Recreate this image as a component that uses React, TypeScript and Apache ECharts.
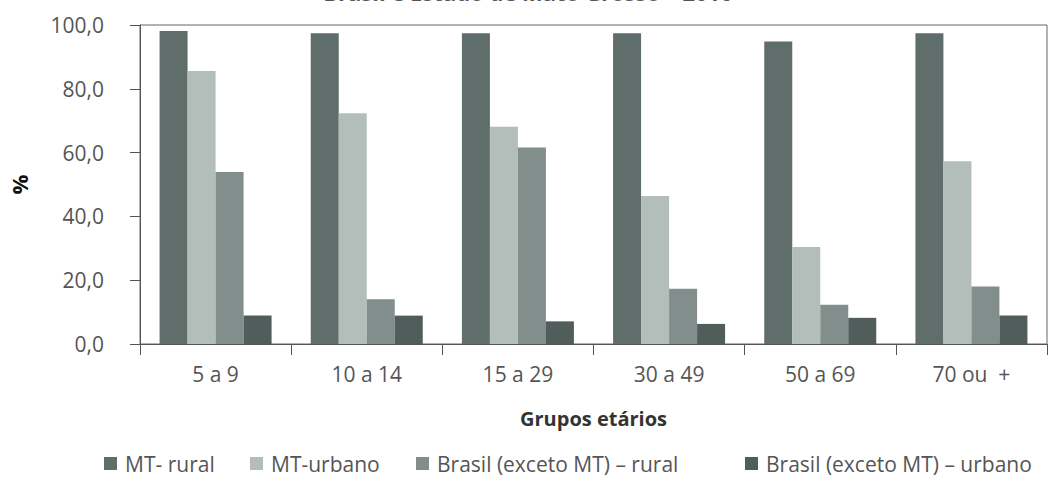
import React, { useEffect, useRef } from "react";
import * as echarts from "echarts";

const categories = ["5 a 9", "10 a 14", "15 a 29", "30 a 49", "50 a 69", "70 ou  +"];
const seriesNames = [
  "MT- rural",
  "MT-urbano",
  "Brasil (exceto MT) – rural",
  "Brasil (exceto MT) – urbano",
];
const mtRural = [98.1, 97.4, 97.4, 97.4, 94.8, 97.4];
const mtUrbano = [85.6, 72.3, 68.1, 46.4, 30.4, 57.3];
const brRural = [53.9, 14.0, 61.6, 17.3, 12.3, 18.0];
const brUrbano = [8.9, 8.9, 7.1, 6.3, 8.2, 8.9];
const colors = ["#5f6e6b", "#b3bdba", "#818e8c", "#505d5b"];
const legendLefts = [99, 245, 411, 740];

const FONT = "'Open Sans', sans-serif";

export default function App() {
  const ref = useRef<HTMLDivElement>(null);
  useEffect(() => {
    if (!ref.current) return;
    const chart = echarts.init(ref.current, null, { renderer: "svg" });
    const values = [mtRural, mtUrbano, brRural, brUrbano];
    chart.setOption({
      animation: false,
      backgroundColor: "#ffffff",
      textStyle: { fontFamily: FONT },
      grid: {
        left: 137,
        right: 9,
        top: 25,
        bottom: 137,
        show: true,
        borderColor: "#666",
        borderWidth: 1,
        backgroundColor: "transparent",
      },
      graphic: [
        {
          type: "text",
          x: 528,
          y: -19.5,
          style: {
            text: "Brasil e Estado de Mato Grosso – 2010",
            align: "center",
            verticalAlign: "top",
            fontFamily: FONT,
            fontSize: 22,
            fontWeight: "bold",
            fill: "#555",
          },
        },
      ],
      legend: seriesNames.map((n, i) => ({
        data: [n],
        left: legendLefts[i],
        top: 451,
        icon: "rect",
        itemWidth: 13,
        itemHeight: 13,
        itemGap: 0,
        padding: [2, 5, 2, 5],
        textStyle: { fontFamily: FONT, fontSize: 21, color: "#555", padding: [0, 0, 0, 3] },
        selectedMode: false,
      })),
      xAxis: {
        type: "category",
        data: categories,
        name: "Grupos etários",
        nameLocation: "middle",
        nameGap: 64,
        nameTextStyle: { fontFamily: FONT, fontSize: 20, fontWeight: "bold", color: "#333" },
        axisLine: { lineStyle: { color: "#555", width: 1 } },
        axisTick: { show: true, length: 11, lineStyle: { color: "#555" } },
        axisLabel: { fontFamily: FONT, fontSize: 21, color: "#555", margin: 19 },
      },
      yAxis: {
        type: "value",
        min: 0,
        max: 100,
        interval: 20,
        name: "%",
        nameLocation: "middle",
        nameRotate: 90,
        nameGap: 110,
        nameTextStyle: { fontFamily: FONT, fontSize: 22, fontWeight: "bold", color: "#111" },
        axisLine: { show: true, lineStyle: { color: "#555", width: 1 } },
        axisTick: { show: true, length: 10, lineStyle: { color: "#555" } },
        splitLine: { show: false },
        axisLabel: {
          fontFamily: FONT,
          fontSize: 21,
          color: "#555",
          margin: 36,
          padding: [7, 0, 0, 0],
          formatter: (v: number) => v.toFixed(1).replace(".", ","),
        },
      },
      series: seriesNames.map((n, i) => ({
        name: n,
        type: "bar",
        data: values[i],
        barWidth: 28,
        barGap: "0%",
        itemStyle: { color: colors[i] },
      })),
    });
    return () => chart.dispose();
  }, []);
  return <div ref={ref} style={{ width: 1056, height: 481, position: "absolute", left: 0, top: 0 }} />;
}
